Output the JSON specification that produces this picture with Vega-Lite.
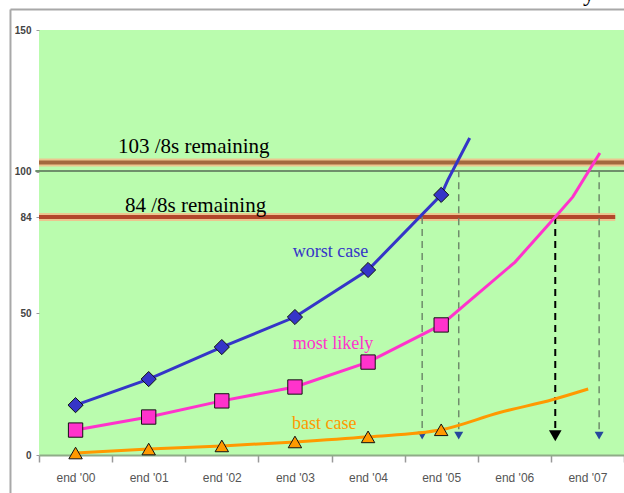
{
  "$schema": "https://vega.github.io/schema/vega-lite/v6.json",
  "width": 585,
  "height": 425,
  "autosize": {"type": "none"},
  "padding": {"left": 39, "top": 30, "right": 0, "bottom": 38},
  "background": "#ffffff",
  "config": {
    "view": {"fill": "#bafcae", "stroke": null}
  },
  "datasets": {
    "series": [
      {"s": "worst case", "u": 0.5, "v": 17.6, "pt": true},
      {"s": "worst case", "u": 1.5, "v": 26.8, "pt": true},
      {"s": "worst case", "u": 2.5, "v": 38.1, "pt": true},
      {"s": "worst case", "u": 3.5, "v": 48.7, "pt": true},
      {"s": "worst case", "u": 4.5, "v": 65.3, "pt": true},
      {"s": "worst case", "u": 5.5, "v": 91.8, "pt": true},
      {"s": "worst case", "u": 5.59, "v": 97, "pt": false},
      {"s": "worst case", "u": 5.89, "v": 111.9, "pt": false},
      {"s": "most likely", "u": 0.5, "v": 8.8, "pt": true},
      {"s": "most likely", "u": 1.5, "v": 13.4, "pt": true},
      {"s": "most likely", "u": 2.5, "v": 19.1, "pt": true},
      {"s": "most likely", "u": 3.5, "v": 24, "pt": true},
      {"s": "most likely", "u": 4.5, "v": 32.8, "pt": true},
      {"s": "most likely", "u": 5.5, "v": 45.9, "pt": true},
      {"s": "most likely", "u": 6.51, "v": 68.1, "pt": false},
      {"s": "most likely", "u": 7.06, "v": 84, "pt": false},
      {"s": "most likely", "u": 7.3, "v": 91.1, "pt": false},
      {"s": "most likely", "u": 7.67, "v": 106.6, "pt": false},
      {"s": "bast case", "u": 0.5, "v": 0.7, "pt": true},
      {"s": "bast case", "u": 1.5, "v": 2.1, "pt": true},
      {"s": "bast case", "u": 2.5, "v": 3.2, "pt": true},
      {"s": "bast case", "u": 3.5, "v": 4.6, "pt": true},
      {"s": "bast case", "u": 4.5, "v": 6.4, "pt": true},
      {"s": "bast case", "u": 5.5, "v": 8.9, "pt": true},
      {"s": "bast case", "u": 6.3, "v": 15.0, "pt": false},
      {"s": "bast case", "u": 7.03, "v": 19.6, "pt": false},
      {"s": "bast case", "u": 7.51, "v": 23.3, "pt": false}
    ],
    "limits": [
      {"name": "103", "v": 103.2, "u": 0, "u2": 8},
      {"name": "84", "v": 84, "u": 0, "u2": 7.88}
    ],
    "drops": [
      {"kind": "gray", "u": 5.24, "v": 84, "v2": 8},
      {"kind": "gray", "u": 5.74, "v": 100.5, "v2": 8},
      {"kind": "black", "u": 7.06, "v": 84, "v2": 8},
      {"kind": "gray", "u": 7.66, "v": 100.5, "v2": 8}
    ],
    "heads": [
      {"kind": "gray", "u": 5.24, "v": 6.8},
      {"kind": "gray", "u": 5.74, "v": 6.8},
      {"kind": "black", "u": 7.06, "v": 6.8},
      {"kind": "gray", "u": 7.66, "v": 6.8}
    ],
    "notes": [
      {"t": "103 /8s remaining", "u": 1.08, "v": 106.6},
      {"t": "84 /8s remaining", "u": 1.176, "v": 85.8}
    ],
    "serieslabels": [
      {"t": "worst case", "s": "worst case", "u": 3.47, "v": 69.9},
      {"t": "most likely", "s": "most likely", "u": 3.47, "v": 37.4},
      {"t": "bast case", "s": "bast case", "u": 3.46, "v": 9.2}
    ],
    "cut": [
      {"t": "y", "u": 7.44, "v": 160.4}
    ]
  },
  "encoding": {
    "x": {
      "field": "u",
      "type": "quantitative",
      "scale": {"domain": [0, 8], "nice": false, "zero": false},
      "axis": {
        "title": null,
        "values": [0, 1, 2, 3, 4, 5, 6, 7, 8],
        "labelExpr": "datum.value < 8 ? \"end '0\" + datum.value : ''",
        "labelOffset": 36.5,
        "labelFont": "Liberation Sans",
        "labelFontSize": 12,
        "labelColor": "#555555",
        "labelPadding": 10,
        "labelOverlap": false,
        "labelFlush": false,
        "labelBound": false,
        "tickSize": 7,
        "tickColor": "#999999",
        "tickWidth": 1.5,
        "domainColor": "#8fac88",
        "domainWidth": 2,
        "grid": false
      }
    },
    "y": {
      "field": "v",
      "type": "quantitative",
      "scale": {"domain": [0, 150], "nice": false, "zero": false},
      "axis": {
        "title": null,
        "values": [0, 50, 84, 100, 150],
        "labelFont": "Liberation Sans",
        "labelFontSize": 10,
        "labelFontWeight": "bold",
        "labelColor": "#444444",
        "labelPadding": 5,
        "tickSize": 3,
        "tickColor": "#999999",
        "domain": false,
        "grid": false
      }
    }
  },
  "layer": [
    {
      "data": {"name": "limits"},
      "mark": {"type": "rule", "color": "#ecc58f", "strokeWidth": 8},
      "encoding": {"x2": {"field": "u2"}}
    },
    {
      "data": {"name": "limits"},
      "transform": [{"filter": "datum.name == '103'"}],
      "mark": {"type": "rule", "color": "#a3683e", "strokeWidth": 4},
      "encoding": {"x2": {"field": "u2"}}
    },
    {
      "data": {"name": "limits"},
      "transform": [{"filter": "datum.name == '84'"}],
      "mark": {"type": "rule", "color": "#b2472b", "strokeWidth": 4},
      "encoding": {"x2": {"field": "u2"}}
    },
    {
      "data": {"name": "cut"},
      "mark": {"type": "rule", "color": "#6f8f6b", "strokeWidth": 2},
      "encoding": {
        "x": {"datum": -0.05, "type": "quantitative"},
        "x2": {"datum": 8},
        "y": {"datum": 100.2, "type": "quantitative"}
      }
    },
    {
      "data": {"name": "drops"},
      "transform": [{"filter": "datum.kind == 'gray'"}],
      "mark": {"type": "rule", "color": "#6f8c6c", "strokeWidth": 1.5, "strokeDash": [7, 5]},
      "encoding": {"y2": {"field": "v2"}}
    },
    {
      "data": {"name": "drops"},
      "transform": [{"filter": "datum.kind == 'black'"}],
      "mark": {"type": "rule", "color": "#000000", "strokeWidth": 2, "strokeDash": [7, 5]},
      "encoding": {"y2": {"field": "v2"}}
    },
    {
      "data": {"name": "heads"},
      "transform": [{"filter": "datum.kind == 'gray'"}],
      "mark": {"type": "point", "shape": "triangle-down", "filled": true, "color": "#26489c", "size": 80, "opacity": 1}
    },
    {
      "data": {"name": "heads"},
      "transform": [{"filter": "datum.kind == 'black'"}],
      "mark": {"type": "point", "shape": "triangle-down", "filled": true, "color": "#000000", "size": 160, "opacity": 1}
    },
    {
      "data": {"name": "series"},
      "transform": [{"filter": "datum.s != 'bast case'"}],
      "mark": {"type": "line", "strokeWidth": 3},
      "encoding": {
        "color": {
          "field": "s",
          "type": "nominal",
          "scale": {"domain": ["worst case", "most likely", "bast case"], "range": ["#3535c8", "#ff33cc", "#ff9900"]},
          "legend": null
        }
      }
    },
    {
      "data": {"name": "series"},
      "transform": [{"filter": "datum.s == 'bast case'"}],
      "mark": {"type": "line", "strokeWidth": 3, "interpolate": "monotone"},
      "encoding": {
        "color": {"field": "s", "type": "nominal", "legend": null}
      }
    },
    {
      "data": {"name": "series"},
      "transform": [{"filter": "datum.pt"}],
      "mark": {"type": "point", "filled": true, "opacity": 1, "stroke": "#111111", "strokeWidth": 1},
      "encoding": {
        "fill": {
          "field": "s",
          "type": "nominal",
          "scale": {"domain": ["worst case", "most likely", "bast case"], "range": ["#3535c8", "#ff33cc", "#ff9900"]},
          "legend": null
        },
        "shape": {
          "field": "s",
          "type": "nominal",
          "scale": {"domain": ["worst case", "most likely", "bast case"], "range": ["diamond", "square", "triangle-up"]},
          "legend": null
        },
        "size": {
          "field": "s",
          "type": "nominal",
          "scale": {"domain": ["worst case", "most likely", "bast case"], "range": [230, 180, 225]},
          "legend": null
        }
      }
    },
    {
      "data": {"name": "notes"},
      "mark": {"type": "text", "align": "left", "baseline": "alphabetic", "font": "Liberation Serif", "fontSize": 21, "color": "#000000"},
      "encoding": {"text": {"field": "t"}}
    },
    {
      "data": {"name": "serieslabels"},
      "mark": {"type": "text", "align": "left", "baseline": "alphabetic", "font": "Liberation Serif", "fontSize": 18},
      "encoding": {
        "text": {"field": "t"},
        "color": {"field": "s", "type": "nominal", "legend": null}
      }
    },
    {
      "data": {"name": "cut"},
      "mark": {"type": "text", "align": "left", "baseline": "alphabetic", "font": "Liberation Serif", "fontSize": 24, "color": "#000000"},
      "encoding": {"text": {"field": "t"}}
    },
    {
      "data": {"name": "cut"},
      "mark": {"type": "rule", "color": "#a8a8a8", "strokeWidth": 2},
      "encoding": {
        "x": {"datum": -0.39, "type": "quantitative"},
        "x2": {"datum": 8.2},
        "y": {"datum": 157.2, "type": "quantitative"}
      }
    },
    {
      "data": {"name": "cut"},
      "mark": {"type": "rule", "color": "#a8a8a8", "strokeWidth": 2},
      "encoding": {
        "x": {"datum": -0.39, "type": "quantitative"},
        "y": {"datum": 157.2, "type": "quantitative"},
        "y2": {"datum": -14}
      }
    }
  ]
}
